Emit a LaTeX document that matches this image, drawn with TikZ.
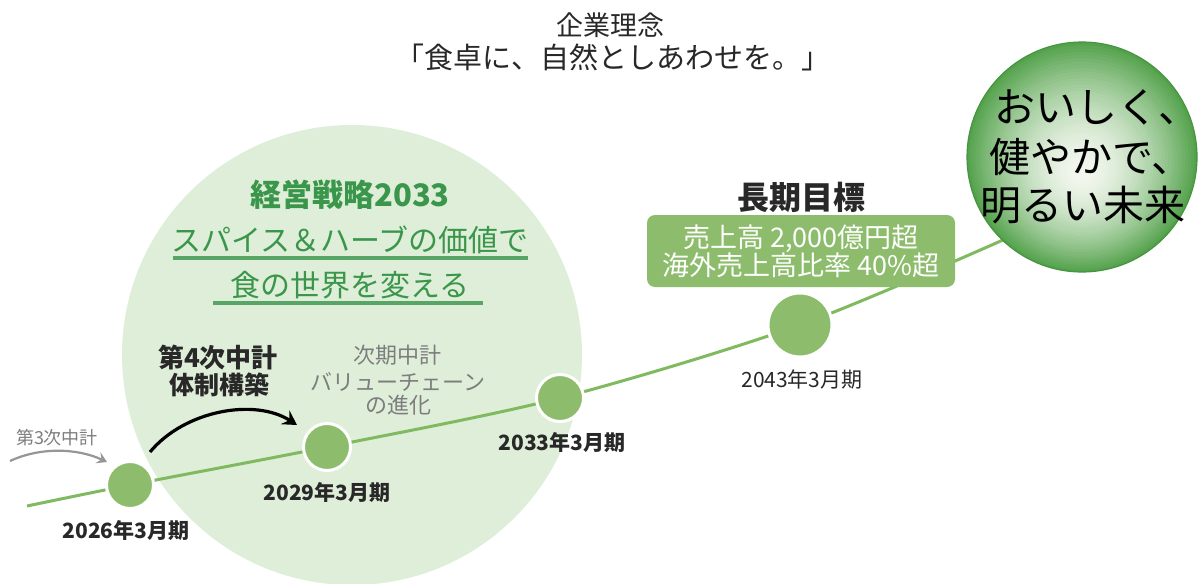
\documentclass[tikz,border=0pt]{standalone}
\usepackage{fontspec}
\setmainfont{Noto Sans CJK JP}
\usetikzlibrary{arrows.meta,calc}
\definecolor{lightcircle}{RGB}{223,238,217}
\definecolor{dotgreen}{RGB}{141,189,108}
\definecolor{linegreen}{RGB}{128,186,96}
\definecolor{textgreen}{RGB}{58,150,74}
\definecolor{ballc0}{RGB}{242,247,238}
\definecolor{ballc4}{RGB}{84,162,76}
\definecolor{balledge}{RGB}{70,148,64}
\definecolor{darktext}{RGB}{40,40,40}
\definecolor{graytext}{RGB}{125,125,125}
\definecolor{grayarrow}{RGB}{150,150,150}
\begin{document}
\begin{tikzpicture}[x=0.5pt,y=-0.5pt,
  every node/.style={inner sep=0pt, outer sep=0pt},
  dot/.style={circle, fill=dotgreen, draw=white, line width=1.5pt, minimum size=23.5pt},
  bigdot/.style={dot, minimum size=32pt},
  datelbl/.style={font=\fontsize{10.5}{12}\selectfont\bfseries, text=darktext},
  datelblr/.style={font=\fontsize{10.5}{12}\selectfont, text=darktext},
  greenhead/.style={font=\fontsize{15.5}{18}\selectfont\bfseries, text=textgreen},
  greenline/.style={font=\fontsize{15}{18}\selectfont, text=textgreen},
  uline/.style={draw=textgreen!85, line width=2pt},
  blackhead/.style={font=\fontsize{13}{15}\selectfont\bfseries, text=darktext},
  graynote/.style={font=\fontsize{11}{13}\selectfont, text=graytext},
  timeline/.style={draw=linegreen, line width=1.5pt},
  goalbox/.style={rectangle, rounded corners=4pt, fill=dotgreen, text=white, align=center,
    minimum width=154pt, minimum height=36pt, font=\fontsize{13.5}{14}\selectfont},
  ballnode/.style={circle, minimum size=115pt, draw=balledge, line width=0.6pt},
  balltext/.style={font=\fontsize{20.5}{24}\selectfont, text=black, anchor=west},
  bigarrow/.style={draw=black, line width=1.6pt, -{Stealth[length=7pt,width=8pt,inset=2.5pt]}},
  smallarrow/.style={draw=grayarrow, line width=1.1pt, -{Stealth[length=5pt,width=6pt,inset=2pt]}}
]
\useasboundingbox (0,0) rectangle (1202,583);
\fill[white] (0,0) rectangle (1202,583);
\begin{scope}
  \clip (0,0) rectangle (1202,583);
  \fill[lightcircle] (352,355) circle[radius=115pt];
\end{scope}

% title
\node[font=\fontsize{13.5}{16}\selectfont, text=darktext] (t1) at (610,25) {企業理念};
\node[font=\fontsize{14.5}{17}\selectfont, text=darktext] (t2) at (613,57) {「食卓に、自然としあわせを。」};

% timeline coordinates
\coordinate (t0) at (27,506);
\coordinate (p1) at (130,485);
\coordinate (p2) at (327,447);
\coordinate (p3) at (560,398);
\coordinate (p4) at (800,325);
\coordinate (te) at (1012,236);
\draw[timeline] plot[smooth, tension=0.5] coordinates {(t0) (p1) (p2) (p3) (p4) (te)};

% ball (graded fill)
\foreach \i in {0,...,39} {
  \pgfmathsetmacro{\f}{1-\i/40}
  \pgfmathtruncatemacro{\t}{100*(\f^1.7)}
  \pgfmathsetmacro{\cy}{157+16*(1-\f)}
  \fill[ballc4!\t!ballc0] (1082,\cy) circle[radius=\f*57.5pt];
}
\node[ballnode] (ball) at (1082,157) {};
\node[balltext] (bt1) at (994,107) {おいしく、};
\node[balltext] (bt2) at (989,157) {健やかで、};
\node[balltext] (bt3) at (980,205) {明るい未来};

% dots
\node[dot] (d1) at (p1) {};
\node[dot] (d2) at (p2) {};
\node[dot] (d3) at (p3) {};
\node[bigdot] (d4) at (p4) {};

% date labels
\node[datelbl] (l1) at (126,530) {2026年3月期};
\node[datelbl] (l2) at (327,493) {2029年3月期};
\node[datelbl] (l3) at (562,443) {2033年3月期};
\node[datelblr] (l4) at (802,380) {2043年3月期};

% strategy text
\node[greenhead] (s1) at (350,195) {経営戦略2033};
\node[greenline] (s2) at (350,240) {スパイス＆ハーブの価値で};
\node[greenline] (s3) at (350,285) {食の世界を変える};
\draw[uline] (173,258) -- (528,258);
\draw[uline] (213,303) -- (483,303);

% 4th plan
\node[blackhead] (m1) at (218,357) {第4次中計};
\node[font=\fontsize{12.5}{15}\selectfont\bfseries, text=darktext] (m2) at (219,385) {体制構築};
\coordinate (a1s) at ($(d1)+(20,-33)$);
\coordinate (a1e) at ($(d2)+(-30,-22)$);
\draw[bigarrow] (a1s) .. controls +(35,-42) and +(-42,-27) .. (a1e);

% next plan
\node[graynote] (n1) at (397,355) {次期中計};
\node[graynote] (n2) at (398,382) {バリューチェーン};
\node[graynote] (n3) at (398,405) {の進化};

% 3rd plan
\node[font=\fontsize{9}{11}\selectfont, text=graytext] (g1) at (57,438) {第3次中計};
\coordinate (a0s) at (10,461);
\coordinate (a0e) at ($(d1)+(-23,-23)$);
\draw[smallarrow] (a0s) .. controls +(30,-14) and +(-30,-14) .. (a0e);

% long-term goal
\node[font=\fontsize{16}{18}\selectfont\bfseries, text=darktext] (g0) at (801,197) {長期目標};
\node[goalbox] (box) at (801,251) {売上高 2,000億円超\\海外売上高比率 40\%超};
\end{tikzpicture}
\end{document}
